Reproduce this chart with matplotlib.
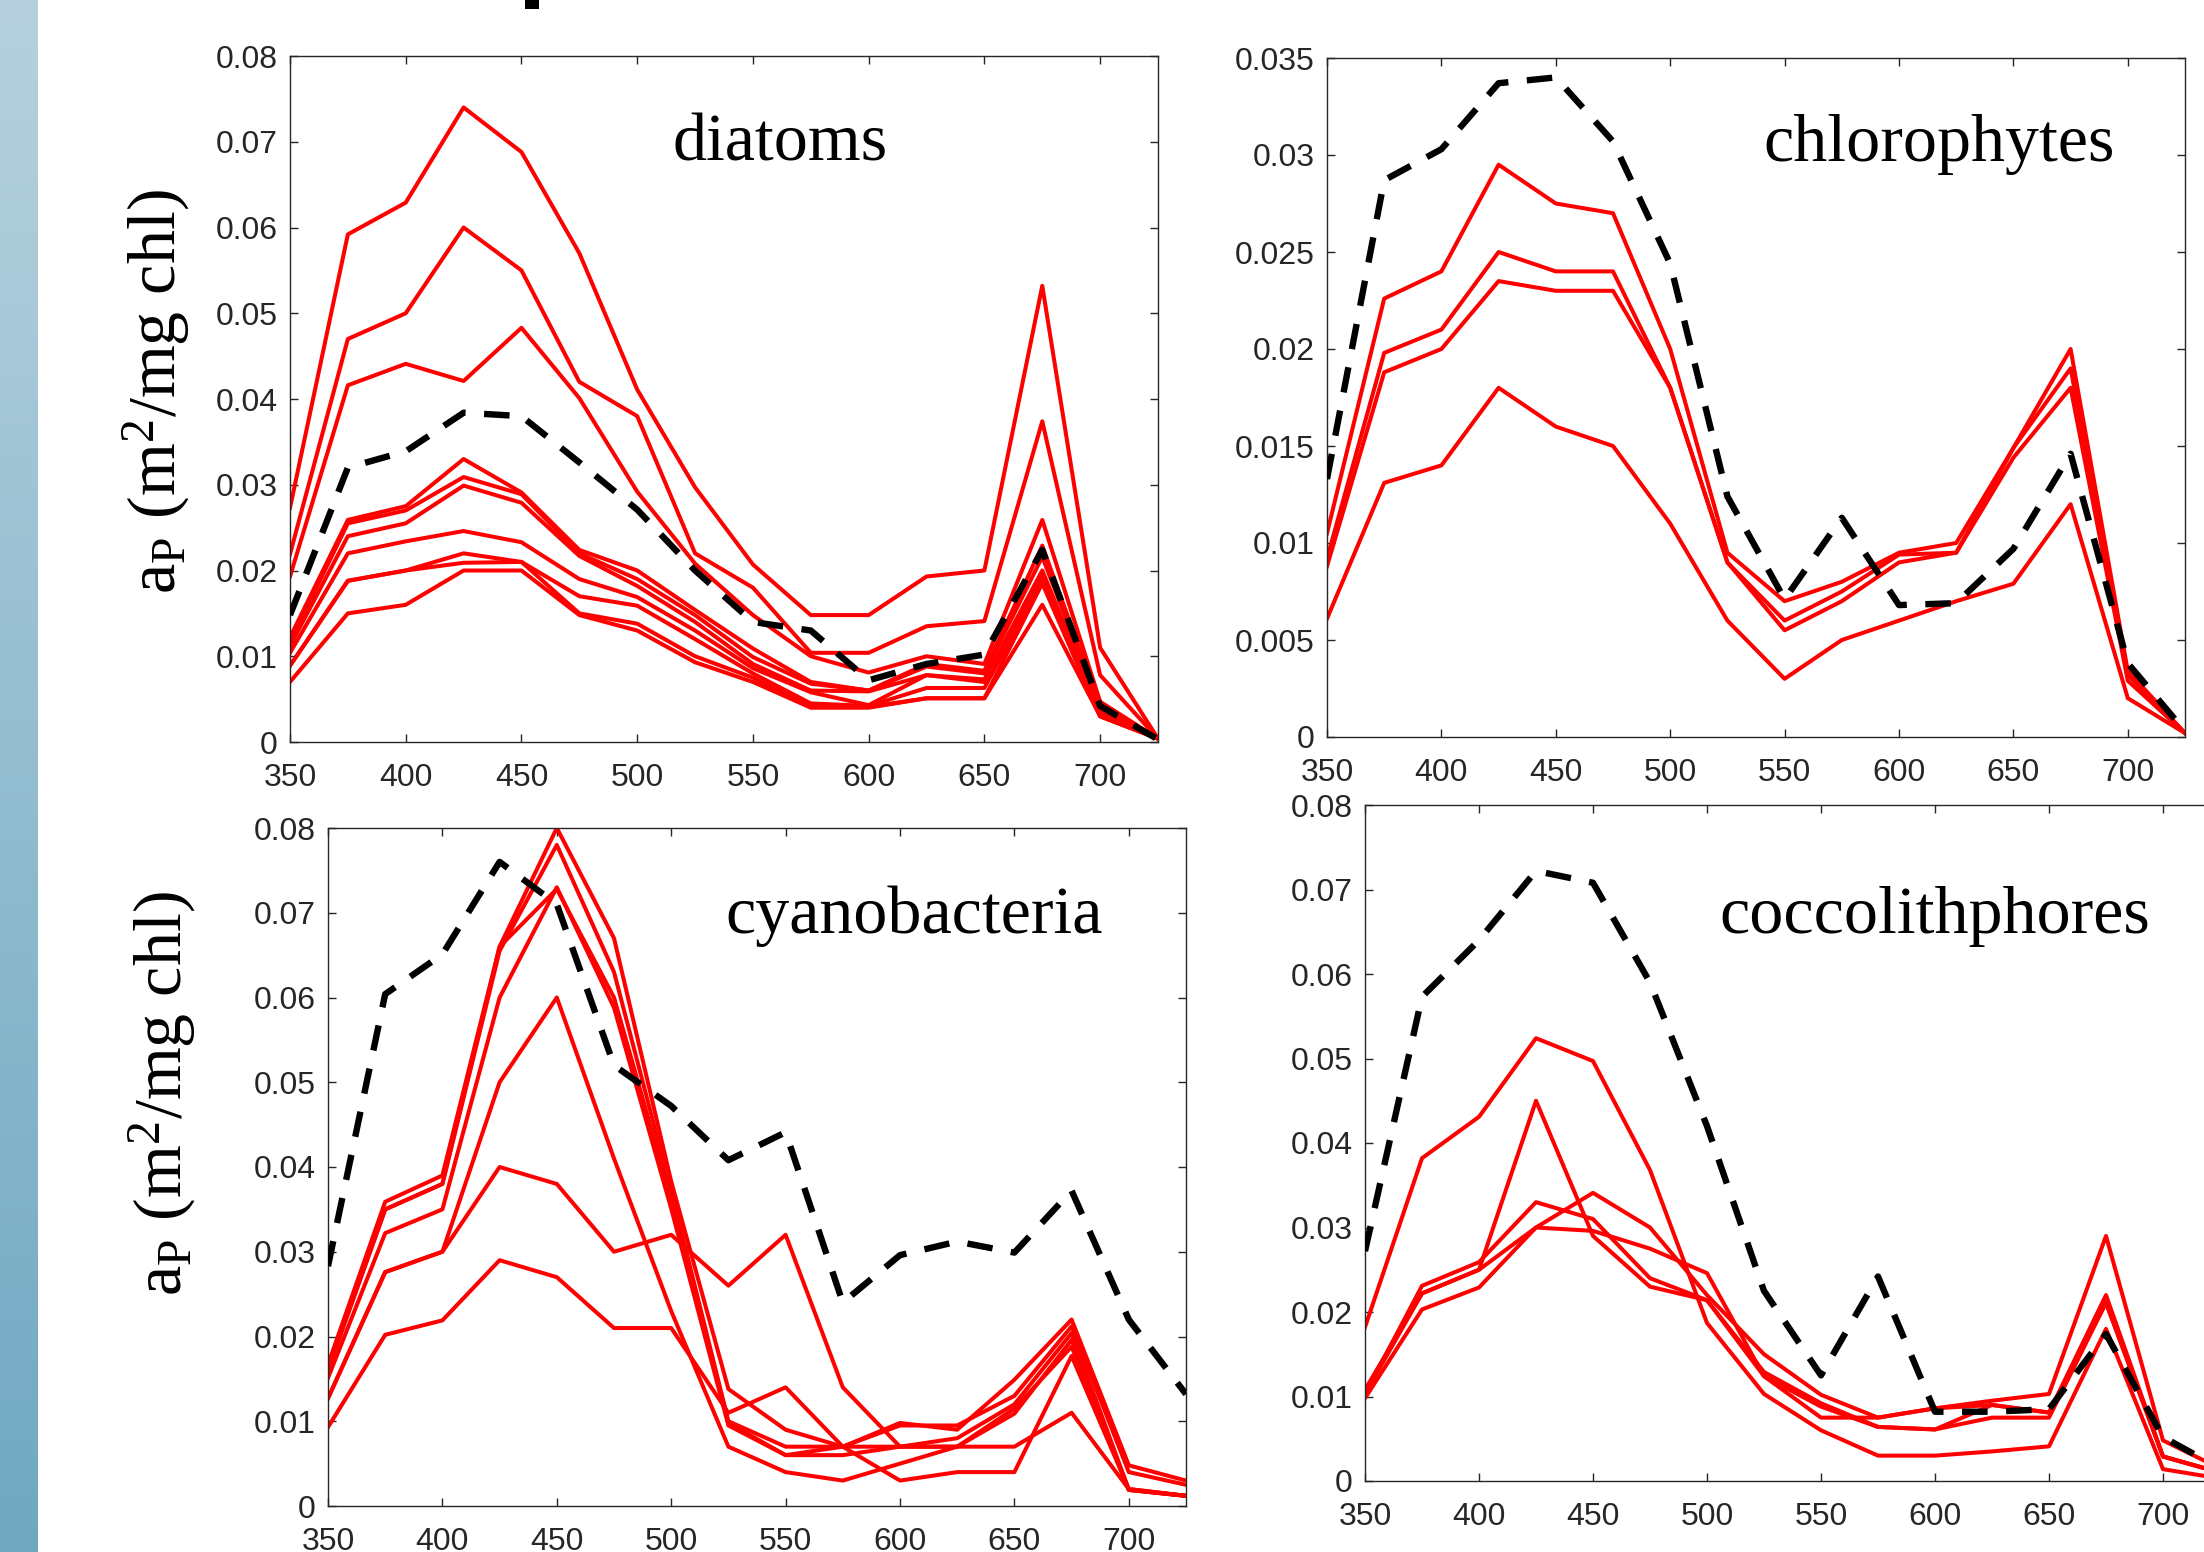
import numpy as np
import matplotlib
matplotlib.use('Agg')
import matplotlib.pyplot as plt
from matplotlib.patches import Rectangle
from matplotlib.ticker import FuncFormatter

plt.rcParams['mathtext.fontset'] = 'custom'
plt.rcParams['mathtext.rm'] = 'Liberation Serif'
plt.rcParams['mathtext.it'] = 'Liberation Serif:italic'

# wavelength grid (nm)
wl = [350, 375, 400, 425, 450, 475, 500, 525, 550, 575, 600, 625, 650, 675, 700, 725]

# diatoms: individual spectra (red) and the mean (dashed black)
diatoms = [
    [0.0273, 0.0592, 0.0629, 0.0740, 0.0688, 0.0570, 0.0411, 0.0297, 0.0207, 0.0148, 0.0148, 0.0193, 0.0200, 0.0532, 0.0110, 0.0004],
    [0.0219, 0.0470, 0.0500, 0.0600, 0.0550, 0.0420, 0.0380, 0.0220, 0.0180, 0.0104, 0.0104, 0.0135, 0.0141, 0.0374, 0.0078, 0.0004],
    [0.0193, 0.0416, 0.0441, 0.0421, 0.0483, 0.0401, 0.0292, 0.0208, 0.0148, 0.0100, 0.0081, 0.0100, 0.0091, 0.0259, 0.0047, 0.0004],
    [0.0122, 0.0259, 0.0275, 0.0330, 0.0291, 0.0224, 0.0200, 0.0154, 0.0109, 0.0070, 0.0060, 0.0091, 0.0083, 0.0229, 0.0042, 0.0004],
    [0.0117, 0.0255, 0.0270, 0.0309, 0.0289, 0.0220, 0.0190, 0.0148, 0.0099, 0.0068, 0.0060, 0.0088, 0.0080, 0.0216, 0.0040, 0.0004],
    [0.0112, 0.0240, 0.0255, 0.0299, 0.0279, 0.0217, 0.0182, 0.0140, 0.0091, 0.0060, 0.0059, 0.0078, 0.0073, 0.0200, 0.0035, 0.0004],
    [0.0104, 0.0220, 0.0234, 0.0246, 0.0233, 0.0190, 0.0169, 0.0130, 0.0086, 0.0058, 0.0043, 0.0078, 0.0070, 0.0195, 0.0031, 0.0004],
    [0.0089, 0.0188, 0.0200, 0.0220, 0.0210, 0.0170, 0.0159, 0.0120, 0.0080, 0.0045, 0.0042, 0.0063, 0.0063, 0.0188, 0.0030, 0.0004],
    [0.0089, 0.0188, 0.0200, 0.0209, 0.0210, 0.0150, 0.0138, 0.0100, 0.0075, 0.0042, 0.0041, 0.0051, 0.0051, 0.0185, 0.0030, 0.0004],
    [0.0070, 0.0150, 0.0160, 0.0200, 0.0200, 0.0148, 0.0130, 0.0093, 0.0070, 0.0040, 0.0040, 0.0051, 0.0051, 0.0160, 0.0030, 0.0004],
]
diatoms_mean = [0.0148, 0.0320, 0.0339, 0.0384, 0.0380, 0.0326, 0.0271, 0.0200, 0.0140, 0.0130, 0.0072, 0.0091, 0.0102, 0.0224, 0.0042, 0.0003]

chloro = [
    [0.0105, 0.0226, 0.0240, 0.0295, 0.0275, 0.0270, 0.0200, 0.0095, 0.0070, 0.0080, 0.0095, 0.0100, 0.0149, 0.0200, 0.0034, 0.0002],
    [0.0092, 0.0198, 0.0210, 0.0250, 0.0240, 0.0240, 0.0180, 0.0090, 0.0060, 0.0075, 0.0094, 0.0095, 0.0149, 0.0190, 0.0032, 0.0002],
    [0.0088, 0.0188, 0.0200, 0.0235, 0.0230, 0.0230, 0.0180, 0.0090, 0.0055, 0.0070, 0.0090, 0.0095, 0.0144, 0.0180, 0.0029, 0.0002],
    [0.0061, 0.0131, 0.0140, 0.0180, 0.0160, 0.0150, 0.0110, 0.0060, 0.0030, 0.0050, 0.0060, 0.0070, 0.0079, 0.0120, 0.0020, 0.0002],
]
chloro_mean = [0.0133, 0.0287, 0.0303, 0.0337, 0.0340, 0.0307, 0.0244, 0.0124, 0.0071, 0.0113, 0.0068, 0.0069, 0.0097, 0.0146, 0.0038, 0.0003]

cyano = [
    [0.0167, 0.0359, 0.0390, 0.0660, 0.0800, 0.0670, 0.0383, 0.0138, 0.0090, 0.0070, 0.0098, 0.0090, 0.0149, 0.0220, 0.0048, 0.0030],
    [0.0163, 0.0350, 0.0380, 0.0655, 0.0780, 0.0630, 0.0372, 0.0100, 0.0070, 0.0070, 0.0095, 0.0095, 0.0130, 0.0212, 0.0040, 0.0025],
    [0.0160, 0.0350, 0.0380, 0.0660, 0.0728, 0.0600, 0.0362, 0.0098, 0.0060, 0.0070, 0.0070, 0.0080, 0.0120, 0.0204, 0.0019, 0.0012],
    [0.0151, 0.0322, 0.0350, 0.0600, 0.0730, 0.0588, 0.0351, 0.0095, 0.0060, 0.0060, 0.0070, 0.0070, 0.0109, 0.0196, 0.0019, 0.0012],
    [0.0127, 0.0276, 0.0300, 0.0500, 0.0600, 0.0410, 0.0230, 0.0070, 0.0040, 0.0030, 0.0050, 0.0070, 0.0115, 0.0188, 0.0019, 0.0012],
    [0.0127, 0.0276, 0.0300, 0.0400, 0.0380, 0.0300, 0.0320, 0.0260, 0.0320, 0.0140, 0.0070, 0.0070, 0.0070, 0.0110, 0.0020, 0.0012],
    [0.0093, 0.0202, 0.0219, 0.0290, 0.0270, 0.0210, 0.0210, 0.0110, 0.0140, 0.0070, 0.0030, 0.0040, 0.0040, 0.0177, 0.0020, 0.0012],
]
cyano_mean = [0.0283, 0.0604, 0.0651, 0.0760, 0.0710, 0.0520, 0.0472, 0.0408, 0.0441, 0.0240, 0.0296, 0.0312, 0.0299, 0.0372, 0.0220, 0.0132]

cocco = [
    [0.0182, 0.0382, 0.0431, 0.0524, 0.0497, 0.0368, 0.0187, 0.0103, 0.0060, 0.0030, 0.0030, 0.0035, 0.0041, 0.0180, 0.0014, 0.0003],
    [0.0108, 0.0222, 0.0250, 0.0450, 0.0290, 0.0230, 0.0214, 0.0124, 0.0088, 0.0064, 0.0061, 0.0090, 0.0081, 0.0220, 0.0029, 0.0010],
    [0.0098, 0.0203, 0.0229, 0.0300, 0.0341, 0.0300, 0.0220, 0.0150, 0.0102, 0.0075, 0.0086, 0.0095, 0.0103, 0.0290, 0.0048, 0.0015],
    [0.0103, 0.0231, 0.0259, 0.0330, 0.0310, 0.0240, 0.0214, 0.0129, 0.0092, 0.0064, 0.0061, 0.0075, 0.0075, 0.0211, 0.0029, 0.0010],
    [0.0103, 0.0222, 0.0250, 0.0300, 0.0296, 0.0275, 0.0246, 0.0124, 0.0075, 0.0075, 0.0086, 0.0090, 0.0081, 0.0211, 0.0029, 0.0010],
]
cocco_mean = [0.0272, 0.0573, 0.0640, 0.0722, 0.0708, 0.0590, 0.0420, 0.0225, 0.0125, 0.0242, 0.0082, 0.0082, 0.0085, 0.0174, 0.0052, 0.0015]

xticks = [350, 400, 450, 500, 550, 600, 650, 700]
yticks_08 = [0, 0.01, 0.02, 0.03, 0.04, 0.05, 0.06, 0.07, 0.08]
yticks_035 = [0, 0.005, 0.01, 0.015, 0.02, 0.025, 0.03, 0.035]

ylab = r'a$_{\mathrm{P}}$ (m$^{2}$/mg chl)'

W, H = 2204, 1552
fig = plt.figure(figsize=(W / 100, H / 100), dpi=100)
fig.patch.set_facecolor('white')

# slide decoration: blue gradient strip on the left
bar = fig.add_axes([0, 0, 38 / W, 1])
top = np.array([182, 209, 221]) / 255.0
bot = np.array([112, 168, 194]) / 255.0
t = np.linspace(0, 1, 256)[:, None]
grad = (top[None, :] * (1 - t) + bot[None, :] * t)[:, None, :]
bar.imshow(grad, aspect='auto', extent=[0, 1, 0, 1])
bar.axis('off')
# bit of the cropped slide title
fig.add_artist(Rectangle((525 / W, 1 - 9 / H), 14 / W, 9 / H, transform=fig.transFigure,
                         facecolor='black', edgecolor='none'))


def px_rect(l, t_, r, b):
    return [l / W, 1 - b / H, (r - l) / W, (b - t_) / H]


def panel(rect, spectra, mean, ylim, yticks, name, tx, ty):
    ax = fig.add_axes(rect)
    for s in spectra:
        ax.plot(wl, s, color='#ff0000', lw=2.9, zorder=2)
    ax.plot(wl, mean, color='black', lw=4.6, dashes=(4.0, 2.9), zorder=3)
    ax.set_xlim(350, 725)
    ax.set_ylim(*ylim)
    ax.set_xticks(xticks)
    ax.set_yticks(yticks)
    ax.yaxis.set_major_formatter(FuncFormatter(lambda v, p: '%g' % v))
    ax.tick_params(direction='in', top=True, right=True, length=6, width=1,
                   color='#262626', labelcolor='#262626', labelsize=23)
    ax.tick_params(axis='x', pad=15)
    ax.tick_params(axis='y', pad=9)
    for lab in ax.get_xticklabels() + ax.get_yticklabels():
        lab.set_fontfamily('Liberation Sans')
    for sp in ax.spines.values():
        sp.set_color('#262626')
        sp.set_linewidth(1.0)
    ax.text(tx, ty, name, transform=ax.transAxes, ha='center', va='baseline',
            fontsize=49, family='Liberation Serif', color='black')
    return ax


panel(px_rect(290, 56, 1158, 742), diatoms, diatoms_mean, (0, 0.08), yticks_08, 'diatoms', 0.565, 0.847)
panel(px_rect(1327, 58, 2185, 737), chloro, chloro_mean, (0, 0.035), yticks_035, 'chlorophytes', 0.714, 0.848)
panel(px_rect(328, 828, 1186, 1506), cyano, cyano_mean, (0, 0.08), yticks_08, 'cyanobacteria', 0.683, 0.845)
panel(px_rect(1365, 805, 2220, 1481), cocco, cocco_mean, (0, 0.08), yticks_08, 'coccolithphores', 0.667, 0.811)

fig.text(157 / W, 1 - 392 / H, ylab, rotation=90, ha='center', va='center',
         fontsize=49, family='Liberation Serif')
fig.text(163 / W, 1 - 1094 / H, ylab, rotation=90, ha='center', va='center',
         fontsize=49, family='Liberation Serif')

fig.savefig('out.png', dpi=100)
